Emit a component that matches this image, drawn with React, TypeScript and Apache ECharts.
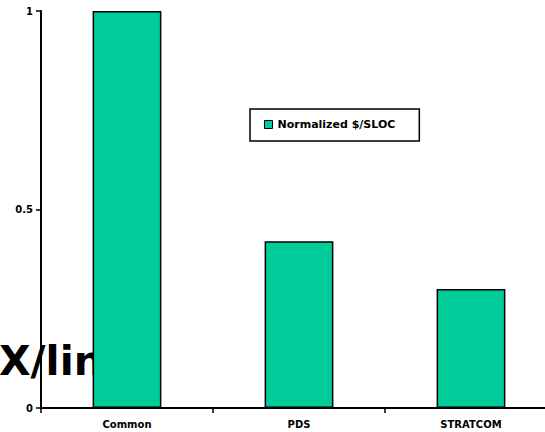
import React, { useEffect, useRef } from "react";
import * as echarts from "echarts";

const categories = ["Common", "PDS", "STRATCOM"];
const normalizedCost = [1.0, 0.42, 0.3];
const seriesName = "Normalized $/SLOC";
const yTicks = [0, 0.5, 1];

const FONT = "DejaVu Sans, Verdana, sans-serif";

export default function App() {
  const ref = useRef<HTMLDivElement>(null);
  useEffect(() => {
    if (!ref.current) return;
    const chart = echarts.init(ref.current, null, { renderer: "svg" });
    chart.setOption({
      animation: false,
      backgroundColor: "#ffffff",
      textStyle: { fontFamily: FONT },
      grid: {
        left: 41,
        top: 11,
        width: 516,
        height: 397,
        containLabel: false,
        outerBoundsMode: "none",
      },
      graphic: [
        {
          type: "text",
          x: -1,
          y: 361,
          z: 0,
          style: {
            text: "X/lin",
            font: "bold 41px " + FONT,
            fill: "#000000",
            verticalAlign: "middle",
          },
        },
      ],
      legend: {
        left: 250,
        top: 109,
        orient: "horizontal",
        borderColor: "#000000",
        borderWidth: 1.5,
        padding: [10, 24, 11, 14],
        itemWidth: 8,
        itemHeight: 8,
        itemGap: 5,
        icon: "rect",
        textStyle: { fontSize: 11, fontWeight: "bold", color: "#000000", fontFamily: FONT },
        data: [{ name: seriesName, itemStyle: { color: "#00CC99", borderColor: "#000000", borderWidth: 1 } }],
      },
      xAxis: {
        type: "category",
        data: categories,
        axisLine: { lineStyle: { color: "#000000", width: 2 } },
        axisTick: { show: true, alignWithLabel: false, length: 5, lineStyle: { color: "#000000", width: 1.5 } },
        axisLabel: { color: "#000000", fontSize: 10, fontWeight: "bold", margin: 11, fontFamily: FONT },
        splitLine: { show: false },
      },
      yAxis: {
        type: "value",
        min: 0,
        max: 1,
        interval: 0.5,
        axisLine: { show: true, lineStyle: { color: "#000000", width: 2 } },
        axisTick: { show: true, length: 5, lineStyle: { color: "#000000", width: 1.5 } },
        axisLabel: {
          color: "#000000",
          fontSize: 10,
          fontWeight: "bold",
          margin: 8,
          fontFamily: FONT,
          formatter: (v: number) => (yTicks.includes(v) ? String(v) : ""),
        },
        splitLine: { show: false },
      },
      series: [
        {
          name: seriesName,
          type: "bar",
          data: normalizedCost,
          barWidth: "40%",
          z: 2,
          itemStyle: { color: "#00CC99", borderColor: "#000000", borderWidth: 1.5 },
        },
      ],
    });
    return () => chart.dispose();
  }, []);
  return (
    <div
      ref={ref}
      style={{ position: "fixed", left: 0, top: 0, width: 545, height: 432, overflow: "hidden" }}
    />
  );
}
